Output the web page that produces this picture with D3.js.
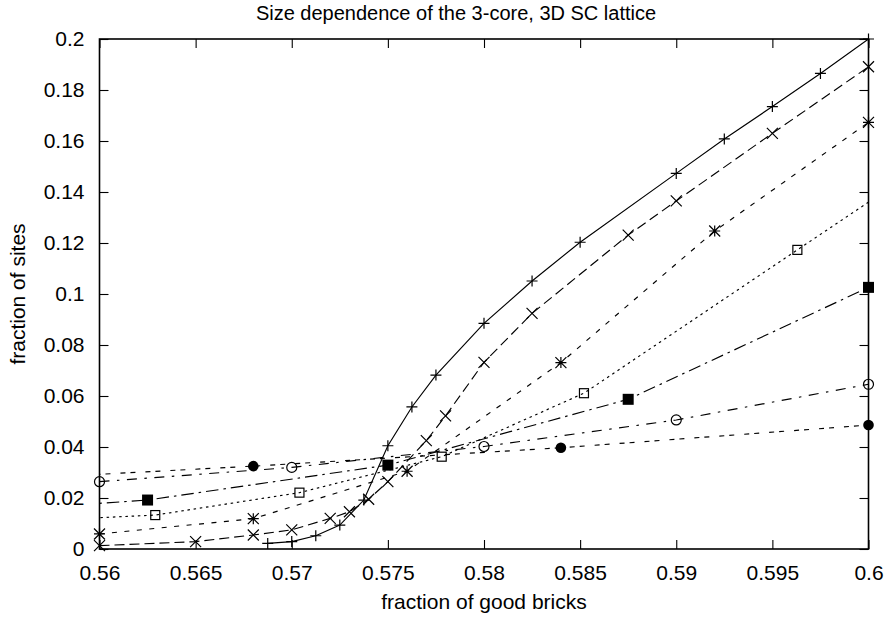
<!DOCTYPE html>
<html>
<head>
<meta charset="utf-8">
<script src="https://cdn.jsdelivr.net/npm/d3@7"></script>
<style>
body { margin: 0; background: #fff; }
text { font-family: "Liberation Sans", Arial, sans-serif; fill: #000; }
</style>
</head>
<body>
<div class="chart"></div>
<script>
var svgWidth = 889;
var svgHeight = 619;

var margin = {
    top: 39,
    right: 20.5,
    bottom: 70,
    left: 99.5
};

var width = svgWidth - margin.left - margin.right;
var height = svgHeight - margin.top - margin.bottom;

// tick values
var xTicks = [0.56, 0.565, 0.57, 0.575, 0.58, 0.585, 0.59, 0.595, 0.6];
var yTicks = [0, 0.02, 0.04, 0.06, 0.08, 0.1, 0.12, 0.14, 0.16, 0.18, 0.2];

// series (points past the border only feed the clipped lines)
var plusX = [0.56875, 0.57, 0.57125, 0.5725, 0.57375, 0.575, 0.57625, 0.5775, 0.58, 0.5825, 0.585, 0.59, 0.5925, 0.595, 0.5975, 0.6];
var plusY = [0.0022, 0.0029, 0.0052, 0.0094, 0.0192, 0.0405, 0.0557, 0.0682, 0.0885, 0.1051, 0.1203, 0.1473, 0.1608, 0.1735, 0.1865, 0.2];

var crossX = [0.56, 0.565, 0.568, 0.57, 0.572, 0.573, 0.574, 0.575, 0.577, 0.578, 0.58, 0.5825, 0.5875, 0.59, 0.595, 0.6];
var crossY = [0.0013, 0.0029, 0.0055, 0.0075, 0.012, 0.0146, 0.0195, 0.0264, 0.0425, 0.0522, 0.0732, 0.0924, 0.1231, 0.1365, 0.163, 0.1891];

var starX = [0.56, 0.568, 0.576, 0.584, 0.592, 0.6];
var starY = [0.0059, 0.0119, 0.0305, 0.0731, 0.1247, 0.1673];

var openSqX = [0.5555, 0.5629, 0.5704, 0.5778, 0.5852, 0.5963, 0.6074];
var openSqY = [0.0107, 0.0133, 0.0221, 0.0362, 0.0611, 0.1173, 0.1735];

var fillSqX = [0.55, 0.5625, 0.575, 0.5875, 0.6];
var fillSqY = [0.0127, 0.0192, 0.0329, 0.0587, 0.1026];

var openCircX = [0.56, 0.57, 0.58, 0.59, 0.6];
var openCircY = [0.0264, 0.032, 0.0402, 0.0506, 0.0646];

var fillCircX = [0.552, 0.568, 0.584, 0.6];
var fillCircY = [0.0261, 0.0325, 0.0397, 0.0486];

var series = [
    { xs: plusX, ys: plusY, dash: null, mark: "plus" },
    { xs: crossX, ys: crossY, dash: "10,5", mark: "cross" },
    { xs: starX, ys: starY, dash: "5,7.5", mark: "star" },
    { xs: openSqX, ys: openSqY, dash: "2.5,3.75", mark: "openSq" },
    { xs: fillSqX, ys: fillSqY, dash: "12.5,5,2.5,5", mark: "fillSq" },
    { xs: openCircX, ys: openCircY, dash: "10,7.5,2.5,7.5", mark: "openCirc" },
    { xs: fillCircX, ys: fillCircY, dash: "5,5,5,10", mark: "fillCirc" }
];

var svg = d3.select(".chart")
    .append("svg")
    .attr("width", svgWidth)
    .attr("height", svgHeight);

var chartGroup = svg.append("g")
    .attr("transform", `translate(${margin.left}, ${margin.top})`);

var xScale = d3.scaleLinear().domain([0.56, 0.6]).range([0, width]);
var yScale = d3.scaleLinear().domain([0, 0.2]).range([height, 0]);

svg.append("defs").append("clipPath")
    .attr("id", "plotClip")
    .append("rect")
    .attr("width", width)
    .attr("height", height);

// axes, ticks pointing inward on all four sides
var fmt = d3.format("");

var xAxis = chartGroup.append("g")
    .attr("transform", `translate(0, ${height})`)
    .call(d3.axisBottom(xScale).tickValues(xTicks).tickSize(-9).tickPadding(16).tickFormat(fmt));

var xTop = chartGroup.append("g")
    .call(d3.axisTop(xScale).tickValues(xTicks).tickSize(-9).tickFormat(""));

var yAxis = chartGroup.append("g")
    .call(d3.axisLeft(yScale).tickValues(yTicks).tickSize(-9).tickPadding(15).tickFormat(fmt));

var yRight = chartGroup.append("g")
    .attr("transform", `translate(${width}, 0)`)
    .call(d3.axisRight(yScale).tickValues(yTicks).tickSize(-9).tickFormat(""));

chartGroup.selectAll(".domain").remove();
chartGroup.selectAll(".tick line").attr("stroke", "#000").attr("stroke-width", 1.1);
chartGroup.selectAll(".tick text")
    .style("font-family", "'Liberation Sans', Arial, sans-serif")
    .style("font-size", "21px")
    .attr("fill", "#000");

chartGroup.append("rect")
    .attr("width", width)
    .attr("height", height)
    .attr("fill", "none")
    .attr("stroke", "#000")
    .attr("stroke-width", 1.6);

var line = d3.line()
    .x(d => xScale(d[0]))
    .y(d => yScale(d[1]));

function drawMark(g, kind) {
    var s = 5.5;
    if (kind === "plus") {
        g.append("path").attr("d", `M${-s},0H${s}M0,${-s}V${s}`).attr("stroke", "#000").attr("stroke-width", 1.2);
    } else if (kind === "cross") {
        g.append("path").attr("d", `M${-s},${-s}L${s},${s}M${-s},${s}L${s},${-s}`).attr("stroke", "#000").attr("stroke-width", 1.2);
    } else if (kind === "star") {
        g.append("path").attr("d", `M${-s},0H${s}M0,${-s}V${s}M${-s},${-s}L${s},${s}M${-s},${s}L${s},${-s}`).attr("stroke", "#000").attr("stroke-width", 1.2);
    } else if (kind === "openSq") {
        g.append("rect").attr("x", -4.5).attr("y", -4.5).attr("width", 9).attr("height", 9)
            .attr("fill", "none").attr("stroke", "#000").attr("stroke-width", 1.2);
    } else if (kind === "fillSq") {
        g.append("rect").attr("x", -5.5).attr("y", -5.5).attr("width", 11).attr("height", 11).attr("fill", "#000");
    } else if (kind === "openCirc") {
        g.append("circle").attr("r", 5).attr("fill", "none").attr("stroke", "#000").attr("stroke-width", 1.2);
    } else if (kind === "fillCirc") {
        g.append("circle").attr("r", 5.3).attr("fill", "#000");
    }
}

series.forEach(function (s) {
    var pts = s.xs.map((v, i) => [v, s.ys[i]]);

    chartGroup.append("path")
        .datum(pts)
        .attr("clip-path", "url(#plotClip)")
        .attr("fill", "none")
        .attr("stroke", "#000")
        .attr("stroke-width", 1.15)
        .attr("stroke-dasharray", s.dash)
        .attr("d", line);

    chartGroup.selectAll(null)
        .data(pts.filter(d => d[0] >= 0.56 && d[0] <= 0.6))
        .enter()
        .append("g")
        .attr("transform", d => `translate(${xScale(d[0])}, ${yScale(d[1])})`)
        .each(function () { drawMark(d3.select(this), s.mark); });
});

// title and axis labels
svg.append("text")
    .attr("x", 456)
    .attr("y", 20)
    .attr("text-anchor", "middle")
    .style("font-size", "20px")
    .text("Size dependence of the 3-core, 3D SC lattice");

svg.append("text")
    .attr("x", margin.left + width / 2)
    .attr("y", 609)
    .attr("text-anchor", "middle")
    .style("font-size", "21px")
    .text("fraction of good bricks");

svg.append("text")
    .attr("transform", `translate(25, ${margin.top + height / 2}) rotate(-90)`)
    .attr("text-anchor", "middle")
    .style("font-size", "21px")
    .text("fraction of sites");
</script>
</body>
</html>
